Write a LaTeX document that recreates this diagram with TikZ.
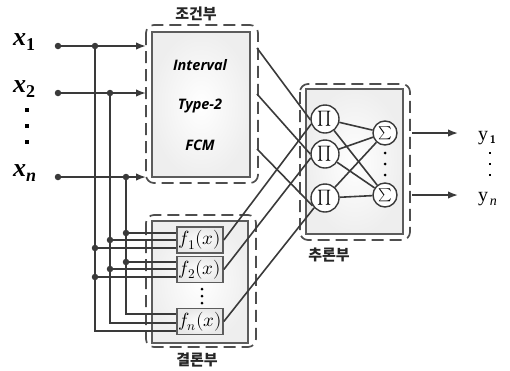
\documentclass[tikz,border=0pt]{standalone}
\usepackage{fontspec}
\usepackage{unicode-math}
\setmainfont{Liberation Serif}
\setmathfont{Latin Modern Math}
\newfontfamily\kr{Noto Sans CJK KR}
\newfontfamily\osans{Open Sans}
\usetikzlibrary{arrows.meta,calc}
\definecolor{linec}{HTML}{3A3A3A}
\definecolor{dashc}{HTML}{4E4E4E}
\definecolor{boxc}{HTML}{5C5C5C}
\begin{document}
\begin{tikzpicture}[x=1pt,y=-1pt,
  wire/.style={draw=linec,line width=1.6pt},
  arr/.style={wire,-{Latex[length=10pt,width=7.5pt]}},
  jdot/.style={circle,fill=linec,inner sep=0pt,minimum size=6.5pt},
  grp/.style={draw=dashc,line width=1.7pt,dash pattern=on 12pt off 6pt,rounded corners=8pt},
  panel/.style={draw=boxc,line width=2pt,shading=radial,inner color=white,outer color=gray!13},
  fbox/.style={draw=boxc,line width=1.6pt,shading=radial,inner color=white,outer color=gray!18,
    minimum width=46pt,minimum height=26pt,inner sep=0pt,font=\fontsize{19}{19}\selectfont},
  pnode/.style={circle,draw=linec,line width=1.4pt,fill=white,minimum size=28pt,inner sep=0pt,font=\fontsize{15}{15}\selectfont},
  snode/.style={circle,draw=linec,line width=1.4pt,fill=white,minimum size=24pt,inner sep=0pt,font=\fontsize{13}{13}\selectfont},
  ttl/.style={font=\kr\bfseries\fontsize{15}{17}\selectfont,inner sep=0pt,text=black!85},
  ptxt/.style={font=\osans\bfseries\itshape\fontsize{14.5}{16}\selectfont,inner sep=0pt},
  sq/.style={fill=black,inner sep=0pt,minimum size=3.2pt},
  rd/.style={circle,fill=black,inner sep=0pt,minimum size=3pt}
]
\useasboundingbox (0,0) rectangle (510,370);

% ---- group frames
\draw[grp] (146,25) rectangle (258,183);
\node[panel,minimum width=98pt,minimum height=145pt] (cond) at (201,104.5) {};
\node[ttl] (tcond) at (196,14) {조건부};
\node[ptxt] (t1) at (200,65) {Interval};
\node[ptxt] (t2) at (200,106) {Type-2};
\node[ptxt] (t3) at (200,145) {FCM};

\draw[grp] (146,215) rectangle (256,347);
\node[panel,minimum width=96pt,minimum height=122pt] (cons) at (200,281.5) {};
\node[ttl] (tcons) at (197,360) {결론부};

\draw[grp] (300,84) rectangle (410,240);
\node[panel,minimum width=97pt,minimum height=145pt] (inf) at (354.5,161.5) {};
\node[ttl] (tinf) at (329,255) {추론부};

% ---- f boxes
\node[fbox] (f1) at (200,240) {$f_1(x)$};
\node[fbox] (f2) at (200,269.5) {$f_2(x)$};
\node[fbox] (fn) at (200,321.5) {$f_n(x)$};
\node[rd] (fd1) at (202,289) {};
\node[rd] (fd2) at (202,296) {};
\node[rd] (fd3) at (202,303) {};

% ---- inputs
\node[anchor=base west,inner sep=0pt] (x1) at (13,45) {{\fontsize{26}{26}\selectfont\bfseries\itshape x}{\fontsize{18}{18}\selectfont\bfseries\raisebox{-5pt}{1}}};
\node[anchor=base west,inner sep=0pt] (x2) at (13,92) {{\fontsize{26}{26}\selectfont\bfseries\itshape x}{\fontsize{18}{18}\selectfont\bfseries\raisebox{-5pt}{2}}};
\node[anchor=base west,inner sep=0pt] (xn) at (13,176) {{\fontsize{26}{26}\selectfont\bfseries\itshape x}{\fontsize{18}{18}\selectfont\bfseries\itshape\raisebox{-5pt}{n}}};
\node[sq] (xd1) at (27,110) {};
\node[sq] (xd2) at (27,126) {};
\node[sq] (xd3) at (27,142) {};

\coordinate (ce) at (146,0);
\node[jdot] (i1) at (58,46) {};
\node[jdot] (i2) at (58,93) {};
\node[jdot] (in) at (58,177) {};
\draw[arr] (i1) -- (i1 -| ce);
\draw[arr] (i2) -- (i2 -| ce);
\draw[arr] (in) -- (in -| ce);

\node[jdot] (b1) at (95,46) {};
\node[jdot] (b2) at (110,93) {};
\node[jdot] (b3) at (126,177) {};
\draw[wire] (b1) |- ($(fn.west)+(0,9.5)$);
\draw[wire] (b2) |- ($(fn.west)+(0,1.5)$);
\draw[wire] (b3) |- ($(fn.west)+(0,-7.5)$);

% branches into f1, f2
\node[jdot] (d13) at (126,233) {};
\node[jdot] (d12) at (110,240) {};
\node[jdot] (d11) at (95,248) {};
\node[jdot] (d23) at (126,262) {};
\node[jdot] (d22) at (110,269) {};
\node[jdot] (d21) at (95,277) {};
\foreach \d/\f in {d13/f1,d12/f1,d11/f1,d23/f2,d22/f2,d21/f2}
  \draw[wire] (\d) -- (\d -| \f.west);

% ---- inference nodes
\node[pnode] (P1) at (325,119) {$\prod$};
\node[pnode] (P2) at (325,154) {$\prod$};
\node[pnode] (P3) at (325,198) {$\prod$};
\node[snode] (S1) at (385,133) {$\sum$};
\node[snode] (S2) at (385,195) {$\sum$};
\node[rd] (sd1) at (385,153) {};
\node[rd] (sd2) at (385,164) {};
\node[rd] (sd3) at (385,175) {};

\coordinate (c1) at (257,48);
\coordinate (c2) at (257,94);
\coordinate (c3) at (257,149);
\draw[wire] (c1) -- (P1.183);
\draw[wire] (c2) -- (P2.180);
\draw[wire] (c3) -- (P3.212);
\draw[wire] (f1.east) -- (P1.200);
\draw[wire] (f2.east) -- (P2.195);
\draw[wire] (fn.east) -- (P3.222);
\foreach \p in {P1,P2,P3}
  \foreach \s in {S1,S2}
    \draw[wire] (\p) -- (\s);

% ---- outputs
\coordinate (oe) at (412,0);
\coordinate (oz) at (458,0);
\draw[arr] (S1 -| oe) -- (S1 -| oz);
\draw[arr] (S2 -| oe) -- (S2 -| oz);
\node[anchor=base west,inner sep=0pt] (y1) at (478,140) {{\fontsize{20}{20}\selectfont y}\,{\fontsize{11}{11}\selectfont\sffamily\bfseries\raisebox{-3pt}{1}}};
\node[anchor=base west,inner sep=0pt] (yn) at (478,201) {{\fontsize{20}{20}\selectfont y}\,{\fontsize{14}{14}\selectfont\itshape\raisebox{-4pt}{n}}};
\node[sq,minimum size=2.8pt] (yd1) at (490,153) {};
\node[sq,minimum size=2.8pt] (yd2) at (490,164) {};
\node[sq,minimum size=2.8pt] (yd3) at (490,175) {};
\end{tikzpicture}
\end{document}
